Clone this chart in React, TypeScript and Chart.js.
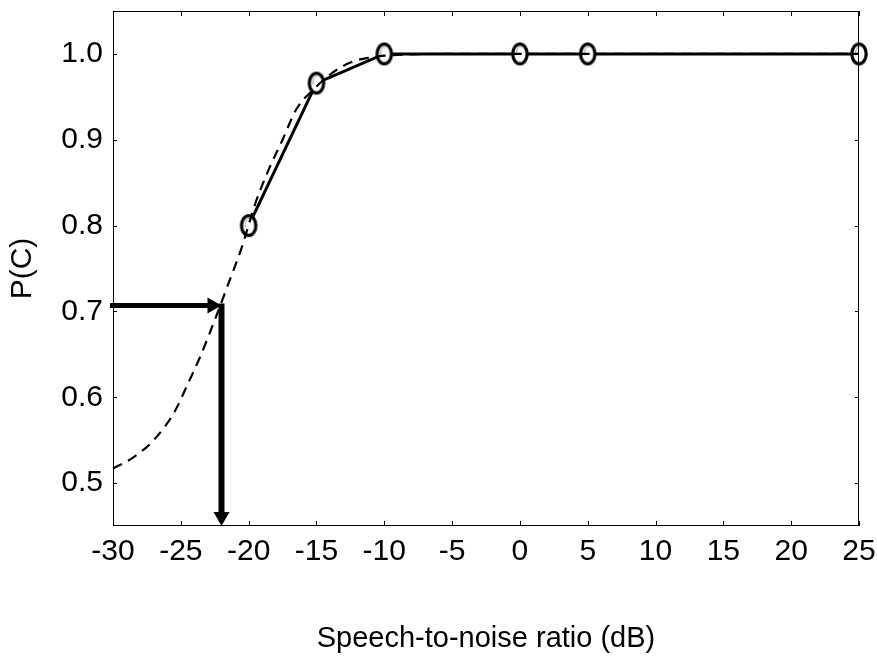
import React, { useEffect, useRef } from "react";
import { Chart, registerables } from "chart.js";

Chart.register(...registerables);

// Measured proportion correct vs speech-to-noise ratio
const snrValues = [-20, -15, -10, 0, 5, 25];
const pcValues = [0.8, 0.966, 1.0, 1.0, 1.0, 1.0];

// Fitted psychometric curve (dashed)
const fitX = [-30, -28.5, -27, -25.5, -24.5, -23.5, -22.5, -21.5, -20.5, -19.5, -18.5, -17.5, -16.5, -15, -14, -12.5, -11, -10, -5, 0, 25];
const fitY = [0.517, 0.53, 0.55, 0.582, 0.615, 0.65, 0.69, 0.732, 0.775, 0.826, 0.866, 0.9, 0.935, 0.962, 0.976, 0.99, 0.996, 0.998, 1.0, 1.0, 1.0];

// Threshold arrows
const thresholdSnr = [-22];
const thresholdPc = [0.707];

// Axes
const xTicks = [-30, -25, -20, -15, -10, -5, 0, 5, 10, 15, 20, 25];
const yTicks = [0.5, 0.6, 0.7, 0.8, 0.9, 1.0];
const xRange = [-30, 25];
const yRange = [0.45, 1.05];

const FONT = "'Liberation Sans', Arial, Helvetica, sans-serif";

function makeMarker(): HTMLCanvasElement {
  const c = document.createElement("canvas");
  c.width = 20;
  c.height = 25;
  const ctx = c.getContext("2d")!;
  ctx.fillStyle = "#fff";
  ctx.strokeStyle = "#000";
  ctx.lineWidth = 3.2;
  ctx.beginPath();
  ctx.ellipse(10, 12.5, 7.2, 9.8, 0, 0, Math.PI * 2);
  ctx.fill();
  ctx.stroke();
  ctx.strokeStyle = "#999";
  ctx.lineWidth = 1;
  ctx.beginPath();
  ctx.ellipse(11, 12, 4.5, 7, 0, Math.PI * 0.9, Math.PI * 1.7);
  ctx.stroke();
  return c;
}

const framePlugin = {
  id: "frameAndArrows",
  afterDatasetsDraw(chart: any) {
    const { ctx, chartArea } = chart;
    const xs = chart.scales.x;
    const ys = chart.scales.y;
    ctx.save();
    // box
    ctx.strokeStyle = "#000";
    ctx.lineWidth = 1;
    ctx.strokeRect(chartArea.left + 0.5, chartArea.top + 0.5, chartArea.right - chartArea.left - 1, chartArea.bottom - chartArea.top - 1);
    // inward ticks
    ctx.beginPath();
    xTicks.forEach((v) => {
      const px = Math.round(xs.getPixelForValue(v)) + 0.5;
      ctx.moveTo(px, chartArea.bottom);
      ctx.lineTo(px, chartArea.bottom - 5);
      ctx.moveTo(px, chartArea.top);
      ctx.lineTo(px, chartArea.top + 5);
    });
    yTicks.forEach((v) => {
      const py = Math.round(ys.getPixelForValue(v)) + 0.5;
      ctx.moveTo(chartArea.left, py);
      ctx.lineTo(chartArea.left + 4, py);
      ctx.moveTo(chartArea.right, py);
      ctx.lineTo(chartArea.right - 4, py);
    });
    ctx.stroke();

    // threshold arrows
    const tx = xs.getPixelForValue(thresholdSnr[0]);
    const ty = ys.getPixelForValue(thresholdPc[0]);
    const x0 = xs.getPixelForValue(xRange[0]) - 3;
    const yb = ys.getPixelForValue(yRange[0]);
    const head = 14;
    const hw = 8;
    ctx.strokeStyle = "#000";
    ctx.fillStyle = "#000";
    ctx.lineWidth = 5;
    ctx.lineCap = "butt";
    ctx.beginPath();
    ctx.moveTo(x0, ty);
    ctx.lineTo(tx - head + 1, ty);
    ctx.stroke();
    ctx.beginPath();
    ctx.moveTo(tx, ty);
    ctx.lineTo(tx - head, ty - hw);
    ctx.lineTo(tx - head, ty + hw);
    ctx.closePath();
    ctx.fill();
    ctx.lineWidth = 6;
    ctx.beginPath();
    ctx.moveTo(tx, ty - 2);
    ctx.lineTo(tx, yb - head + 1);
    ctx.stroke();
    ctx.beginPath();
    ctx.moveTo(tx, yb);
    ctx.lineTo(tx - hw, yb - head);
    ctx.lineTo(tx + hw, yb - head);
    ctx.closePath();
    ctx.fill();
    ctx.restore();
  },
};

const zeroPad = (s: any) => {
  s.paddingTop = 0;
  s.paddingBottom = 0;
  s.paddingLeft = 0;
  s.paddingRight = 0;
};

export default function App() {
  const ref = useRef<HTMLCanvasElement | null>(null);
  useEffect(() => {
    if (!ref.current) return;
    const marker = makeMarker();
    const chart = new Chart(ref.current, {
      type: "scatter",
      data: {
        datasets: [
          {
            label: "fit",
            data: fitX.map((x, i) => ({ x, y: fitY[i] })),
            showLine: true,
            borderColor: "#000",
            borderWidth: 2.2,
            borderDash: [10, 7],
            pointRadius: 0,
            cubicInterpolationMode: "monotone",
            clip: false as any,
          },
          {
            label: "data",
            data: snrValues.map((x, i) => ({ x, y: pcValues[i] })),
            showLine: true,
            borderColor: "#000",
            borderWidth: 3,
            pointStyle: marker as any,
            pointRadius: 9,
            backgroundColor: "#fff",
            clip: false as any,
          },
        ],
      },
      options: {
        animation: false,
        responsive: false,
        maintainAspectRatio: false,
        layout: { padding: { top: 11, right: 18, left: 0, bottom: 0 }, autoPadding: false } as any,
        plugins: { legend: { display: false }, tooltip: { enabled: false } },
        scales: {
          x: {
            type: "linear",
            min: xRange[0],
            max: xRange[1],
            afterBuildTicks: (s: any) => {
              s.ticks = xTicks.map((v) => ({ value: v }));
            },
            afterFit: (s: any) => {
              s.height = 134;
              zeroPad(s);
            },
            grid: { display: false, drawTicks: false },
            border: { display: false },
            ticks: {
              color: "#000",
              font: { family: FONT, size: 30 },
              padding: 8,
              maxRotation: 0,
              autoSkip: false,
              callback: (v: any) => String(v),
            },
            title: {
              display: true,
              text: "Speech-to-noise ratio (dB)",
              color: "#000",
              font: { family: FONT, size: 29 },
              padding: { top: 0, bottom: 4 },
            },
          },
          y: {
            type: "linear",
            min: yRange[0],
            max: yRange[1],
            afterBuildTicks: (s: any) => {
              s.ticks = yTicks.map((v) => ({ value: v }));
            },
            afterFit: (s: any) => {
              s.width = 113;
              zeroPad(s);
            },
            grid: { display: false, drawTicks: false },
            border: { display: false },
            ticks: {
              color: "#000",
              font: { family: FONT, size: 30 },
              padding: 10,
              autoSkip: false,
              callback: (v: any) => Number(v).toFixed(1),
            },
            title: {
              display: true,
              text: "P(C)",
              color: "#000",
              font: { family: FONT, size: 30 },
              padding: { top: 5, bottom: 0 },
            },
          },
        },
      },
      plugins: [framePlugin],
    });
    return () => chart.destroy();
  }, []);
  return (
    <div style={{ position: "fixed", left: 0, top: 0, width: 877, height: 660, background: "#fff" }}>
      <canvas ref={ref} width={877} height={660} style={{ width: 877, height: 660 }} />
    </div>
  );
}
